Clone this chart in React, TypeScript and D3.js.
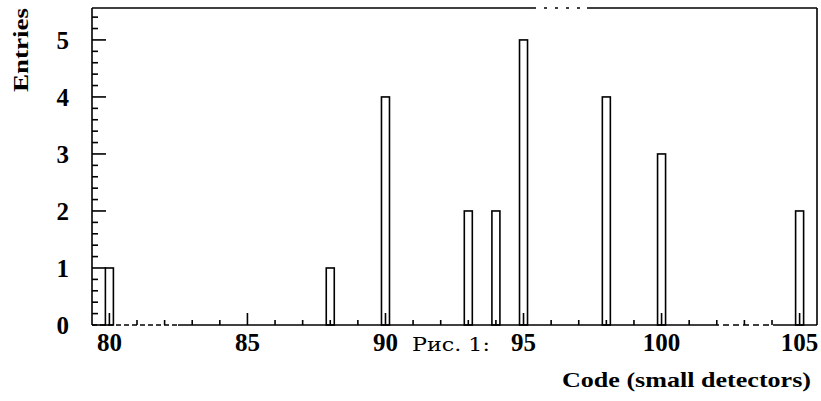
import React, { useEffect, useRef } from 'react';
import * as d3 from 'd3';

const codes = [80, 88, 90, 93, 94, 95, 98, 100, 105];
const entries = [1, 1, 4, 2, 2, 5, 4, 3, 2];
const xTicks = [80, 85, 90, 95, 100, 105];
const yTicks = [0, 1, 2, 3, 4, 5];

const App = () => {
    const chartRef = useRef<SVGSVGElement | null>(null);

    useEffect(() => {
        const width = 821;
        const height = 401;
        const frame = { left: 92, right: 817, top: 8, bottom: 325 };
        const font = "'Liberation Serif', 'Times New Roman', serif";

        const x = d3.scaleLinear().domain([79.37, 105.63]).range([frame.left, frame.right]);
        const y = d3.scaleLinear().domain([0, 5.56]).range([frame.bottom, frame.top]);

        const svg = d3.select(chartRef.current);
        svg.selectAll("*").remove();
        svg.attr("width", width).attr("height", height);

        svg.append("rect")
            .attr("width", width)
            .attr("height", height)
            .attr("fill", "white");

        // ticks: integers are long, minor ones short, all pointing inward
        const yMinor = d3.range(0, 5.5, 0.2).filter(v => Math.abs(v - Math.round(v)) > 0.01);
        const xMinor = d3.range(80, 106, 1).filter(v => v % 5 !== 0);

        const tick = (x1: number, y1: number, x2: number, y2: number) =>
            svg.append("path")
                .attr("d", `M${x1},${y1}L${x2},${y2}`)
                .attr("stroke", "#000")
                .attr("stroke-width", 1.6)
                .attr("fill", "none");

        yMinor.forEach(v => tick(frame.left, y(v), frame.left + 6, y(v)));
        yTicks.forEach(v => tick(frame.left, y(v), frame.left + 14, y(v)));
        xMinor.forEach(v => tick(x(v), frame.bottom, x(v), frame.bottom - 5));
        xTicks.forEach(v => tick(x(v), frame.bottom, x(v), frame.bottom - 12));

        // tick labels
        svg.append("g")
            .selectAll("text")
            .data(yTicks)
            .enter()
            .append("text")
            .attr("x", frame.left - 23)
            .attr("y", d => y(d))
            .attr("dy", "0.37em")
            .attr("text-anchor", "end")
            .style("font-family", font)
            .style("font-weight", "bold")
            .style("font-size", "25px")
            .text(d => d);

        svg.append("g")
            .selectAll("text")
            .data(xTicks)
            .enter()
            .append("text")
            .attr("x", d => x(d))
            .attr("y", frame.bottom + 26)
            .attr("text-anchor", "middle")
            .style("font-family", font)
            .style("font-weight", "bold")
            .style("font-size", "25px")
            .text(d => d);

        // histogram bars
        const binHalf = 0.145;
        svg.append("g")
            .selectAll("rect")
            .data(codes.map((c, i) => ({ code: c, value: entries[i] })))
            .enter()
            .append("rect")
            .attr("x", d => x(d.code - binHalf))
            .attr("y", d => y(d.value))
            .attr("width", d => x(d.code + binHalf) - x(d.code - binHalf))
            .attr("height", d => y(0) - y(d.value))
            .attr("fill", "none")
            .attr("stroke", "#000")
            .attr("stroke-width", 1.6);

        // frame (scanned look: broken pieces on top and bottom)
        const line = (x1: number, y1: number, x2: number, y2: number, dash?: string) => {
            const l = svg.append("line")
                .attr("x1", x1).attr("y1", y1).attr("x2", x2).attr("y2", y2)
                .attr("stroke", "#000").attr("stroke-width", 1.6);
            if (dash) l.attr("stroke-dasharray", dash);
        };
        line(frame.left, frame.top, frame.left, frame.bottom);
        line(frame.right, frame.top, frame.right, frame.bottom);
        line(frame.left, frame.top, 533, frame.top);
        line(533, frame.top, 587, frame.top, "3,8");
        line(587, frame.top, frame.right, frame.top);
        line(frame.left, frame.bottom, 178, frame.bottom, "5,3");
        line(178, frame.bottom, 713, frame.bottom);
        line(713, frame.bottom, 773, frame.bottom, "6,4");
        line(773, frame.bottom, frame.right, frame.bottom);

        // titles
        svg.append("text")
            .attr("transform", "translate(28,50) rotate(-90)")
            .attr("text-anchor", "middle")
            .attr("textLength", 84)
            .attr("lengthAdjust", "spacingAndGlyphs")
            .style("font-family", font)
            .style("font-weight", "bold")
            .style("font-size", "21px")
            .text("Entries");

        svg.append("text")
            .attr("x", 562)
            .attr("y", 387)
            .attr("textLength", 249)
            .attr("lengthAdjust", "spacingAndGlyphs")
            .style("font-family", font)
            .style("font-weight", "bold")
            .style("font-size", "21px")
            .text("Code (small detectors)");

        svg.append("text")
            .attr("x", 412)
            .attr("y", 351)
            .attr("textLength", 78)
            .attr("lengthAdjust", "spacingAndGlyphs")
            .style("font-family", "'DejaVu Serif', serif")
            .style("font-size", "19px")
            .text("Рис. 1:");
    }, []);

    return (
        <svg ref={chartRef} style={{ position: "absolute", left: 0, top: 0, display: "block" }}></svg>
    );
};

export default App;
